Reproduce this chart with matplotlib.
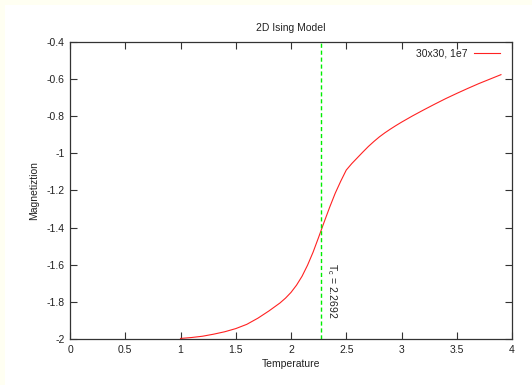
"""2D Ising model magnetization vs temperature (gnuplot-style replica)."""

import matplotlib

matplotlib.use("Agg")
import matplotlib.pyplot as plt
from matplotlib.patches import Rectangle

# values
temperature = [1.0, 1.1, 1.2, 1.3, 1.4, 1.5, 1.6, 1.7, 1.8, 1.9, 1.95, 2.0, 2.05,
               2.1, 2.15, 2.2, 2.25, 2.3, 2.35, 2.4, 2.45, 2.5, 2.55, 2.6, 2.65,
               2.7, 2.75, 2.8, 2.85, 2.9, 2.95, 3.0, 3.1, 3.2, 3.3, 3.4, 3.5,
               3.6, 3.7, 3.8, 3.9]
magnetization = [-1.997, -1.992, -1.985, -1.974, -1.961, -1.944, -1.921, -1.888,
                 -1.849, -1.806, -1.780, -1.749, -1.710, -1.662, -1.602, -1.532,
                 -1.452, -1.370, -1.290, -1.215, -1.150, -1.090, -1.055, -1.024,
                 -0.993, -0.963, -0.936, -0.911, -0.889, -0.869, -0.850, -0.832,
                 -0.798, -0.766, -0.735, -0.705, -0.677, -0.650, -0.624, -0.600,
                 -0.576]
TC = 2.2692

xticks = [0, 0.5, 1, 1.5, 2, 2.5, 3, 3.5, 4]
xticklabels = ["0", "0.5", "1", "1.5", "2", "2.5", "3", "3.5", "4"]
yticks = [-2, -1.8, -1.6, -1.4, -1.2, -1, -0.8, -0.6, -0.4]
yticklabels = ["-2", "-1.8", "-1.6", "-1.4", "-1.2", "-1", "-0.8", "-0.6", "-0.4"]

plt.rcParams["font.family"] = ["Liberation Sans", "DejaVu Sans"]

fig = plt.figure(figsize=(5.32, 3.85), dpi=100)
fig.patch.set_facecolor("white")
# thin cream border on the left and top edge
fig.patches.append(Rectangle((0, 0), 5 / 532, 1, transform=fig.transFigure,
                             facecolor="#fffff2", edgecolor="none", zorder=-1))
fig.patches.append(Rectangle((0, 1 - 5 / 385), 1, 5 / 385, transform=fig.transFigure,
                             facecolor="#fffff2", edgecolor="none", zorder=-1))

ax = fig.add_axes([70 / 532, 1 - 339 / 385, 442 / 532, 297 / 385])

ax.plot(temperature, magnetization, color="#ff2222", linewidth=0.8,
        label="30x30, 1e7")
ax.axvline(TC, color="#00ee00", linestyle=(0, (3, 2)), linewidth=1.0)
ax.text(TC + 0.04, -1.59, r"T$_\mathregular{c}$ = 2.2692", rotation=-90,
        ha="left", va="top", fontsize=7.5, color="#222222")

ax.set_xlim(0, 4)
ax.set_ylim(-2, -0.4)
ax.set_xticks(xticks)
ax.set_xticklabels(xticklabels)
ax.set_yticks(yticks)
ax.set_yticklabels(yticklabels)
ax.tick_params(direction="in", length=5, width=0.8, color="#333333",
               labelsize=7.5, labelcolor="#222222", top=True, right=True, pad=4)
for s in ax.spines.values():
    s.set_color("#333333")
    s.set_linewidth(0.9)

ax.set_title("2D Ising Model", fontsize=7.5, color="#222222", pad=8)
ax.set_xlabel("Temperature", fontsize=7.5, color="#222222", labelpad=3)
ax.set_ylabel("Magnetiztion", fontsize=7.5, color="#222222", labelpad=5)

leg = ax.legend(loc="upper right", bbox_to_anchor=(0.972, 0.978), frameon=False,
                fontsize=7.5, markerfirst=False, handlelength=2.5,
                borderaxespad=0.0, handletextpad=0.6, borderpad=0.0)
for t in leg.get_texts():
    t.set_color("#222222")

fig.savefig("out.png", dpi=100)
